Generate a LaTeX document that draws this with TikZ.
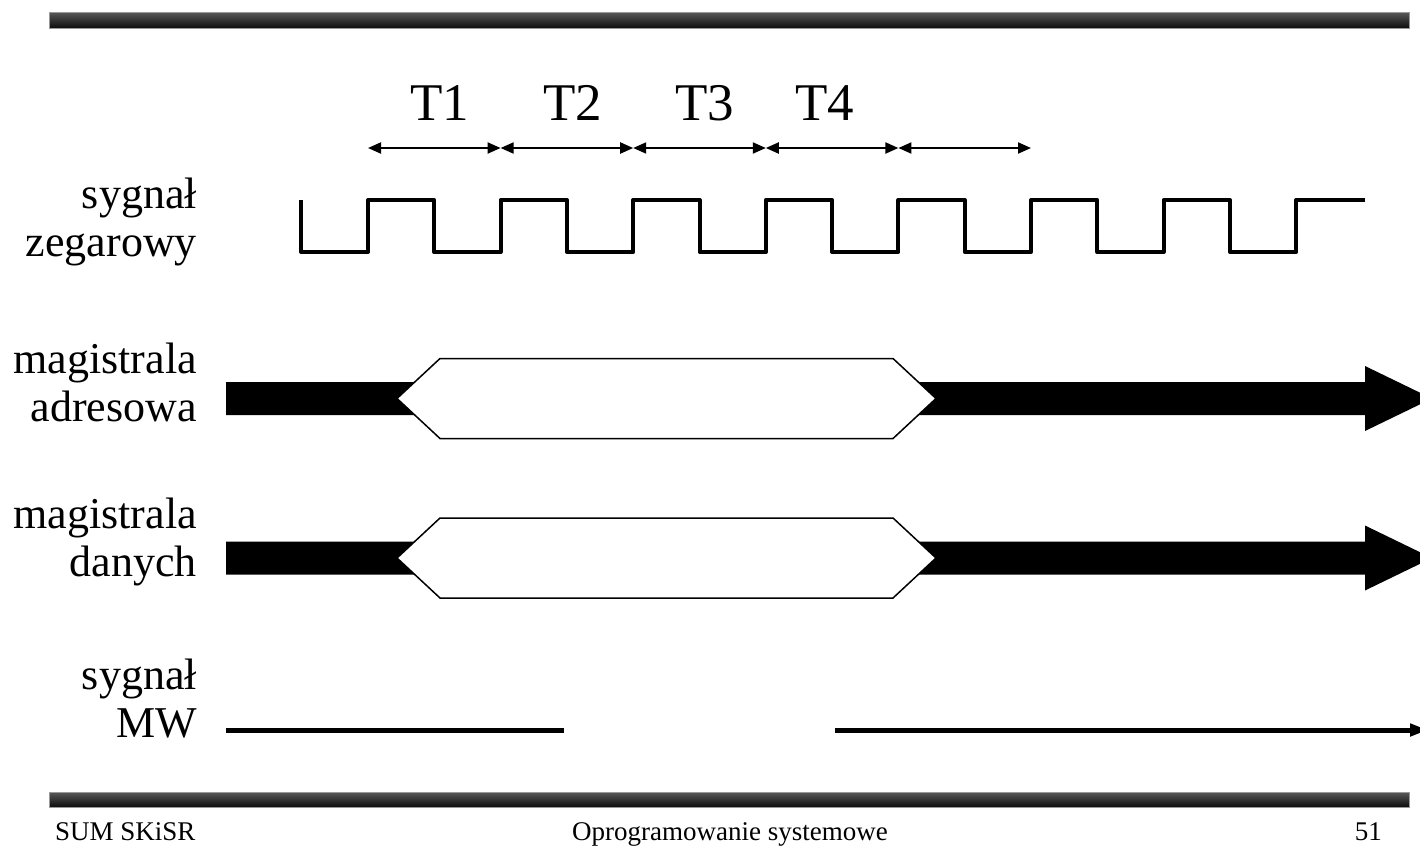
\documentclass[tikz,border=0pt]{standalone}
\usepackage{fontspec}
\setmainfont{Liberation Serif}
\usetikzlibrary{arrows.meta}

\begin{document}
\begin{tikzpicture}[x=1pt, y=-1pt,
        sig/.style={font=\fontsize{44}{48}\selectfont, align=right, anchor=east, inner sep=0pt},
        tlabel/.style={font=\fontsize{53}{53}\selectfont, anchor=base, inner sep=0pt},
        period/.style={{Triangle[length=13pt,width=11pt]}-{Triangle[length=13pt,width=11pt]}, line width=2pt},
        clock/.style={line width=4pt, line join=round},
        busval/.style={fill=white, draw=black, line width=1.5pt},
        bar/.style={top color=black!65, bottom color=black!95, draw=black!40, line width=0.8pt},
        footer/.style={font=\fontsize{27}{27}\selectfont, anchor=base, inner sep=0pt}]
        \useasboundingbox (0,0) rectangle (1420,852);
        \clip (0,0) rectangle (1420,852);

        \shadedraw[bar] (49,12) rectangle (1409,28);
        \shadedraw[bar] (49,792) rectangle (1409,807);

        \node[sig] (clk) at (197,222) {sygnał\\zegarowy};
        \node[sig] (adr) at (197,382) {magistrala\\adresowa};
        \node[sig] (dat) at (197,542) {magistrala\\danych};
        \node[sig] (mw) at (197,699) {sygnał\\MW};

        \coordinate (p0) at (368,148);
        \coordinate (p1) at (500.6,148);
        \coordinate (p2) at (633.2,148);
        \coordinate (p3) at (765.8,148);
        \coordinate (p4) at (898.4,148);
        \coordinate (p5) at (1031,148);

        \draw[period] (p0) -- (p1);
        \draw[period] (p1) -- (p2);
        \draw[period] (p2) -- (p3);
        \draw[period] (p3) -- (p4);
        \draw[period] (p4) -- (p5);

        \node[tlabel] (t1) at (440,120) {T1};
        \node[tlabel] (t2) at (573,120) {T2};
        \node[tlabel] (t3) at (705,120) {T3};
        \node[tlabel] (t4) at (825,120) {T4};

        \draw[clock] (301,200) -- (301,252) -- (368,252) -- (368,200) -- (434.3,200) -- (434.3,252)
            -- (500.6,252) -- (500.6,200) -- (566.9,200) -- (566.9,252) -- (633.2,252) -- (633.2,200)
            -- (699.5,200) -- (699.5,252) -- (765.8,252) -- (765.8,200) -- (832.1,200) -- (832.1,252)
            -- (898.4,252) -- (898.4,200) -- (964.7,200) -- (964.7,252) -- (1031,252) -- (1031,200)
            -- (1097.3,200) -- (1097.3,252) -- (1163.6,252) -- (1163.6,200) -- (1229.9,200) -- (1229.9,252)
            -- (1296.2,252) -- (1296.2,200) -- (1365,200);

        \fill (226,382) -- (1365,382) -- (1365,366) -- (1432,398.5) -- (1365,431) -- (1365,415) -- (226,415) -- cycle;
        \filldraw[busval] (397,398.5) -- (440,358.5) -- (893,358.5) -- (936,398.5) -- (893,438.5) -- (440,438.5) -- cycle;

        \fill (226,541.5) -- (1365,541.5) -- (1365,525.5) -- (1432,558) -- (1365,590.5) -- (1365,574.5) -- (226,574.5) -- cycle;
        \filldraw[busval] (397,558) -- (440,518) -- (893,518) -- (936,558) -- (893,598) -- (440,598) -- cycle;

        \coordinate (mw0) at (226,730);
        \coordinate (mw1) at (564,730);
        \coordinate (mw2) at (835,730);
        \coordinate (mw3) at (1428,730);
        \draw[line width=5pt] (mw0) -- (mw1);
        \draw[line width=5pt, -{Triangle[length=18pt,width=12pt]}] (mw2) -- (mw3);

        \node[footer, anchor=base west] (org) at (55,840) {SUM SKiSR};
        \node[footer] (title) at (730,840) {Oprogramowanie systemowe};
        \node[footer, anchor=base east] (page) at (1382,840) {51};
\end{tikzpicture}
\end{document}
